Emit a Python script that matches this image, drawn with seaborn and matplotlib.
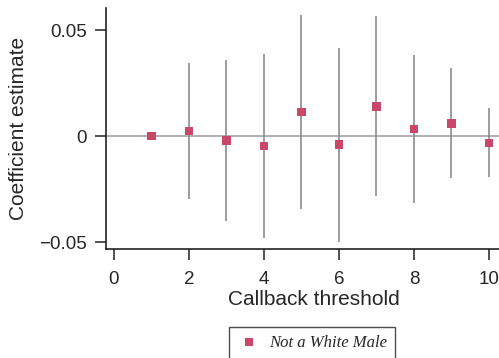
import matplotlib
matplotlib.use("Agg")
import matplotlib.pyplot as plt
import seaborn as sns
import pandas as pd

sns.set_style("ticks")
plt.rcParams['font.family'] = ['Liberation Sans', 'DejaVu Sans']

# estimates
threshold = [1, 2, 3, 4, 5, 6, 7, 8, 9, 10]
coef = [0.0, 0.0024, -0.002, -0.0047, 0.0113, -0.004, 0.014, 0.0033, 0.006, -0.0033]
ci_low = [0.0, -0.0297, -0.040, -0.0483, -0.0346, -0.0498, -0.0283, -0.0318, -0.0197, -0.0195]
ci_high = [0.0, 0.0344, 0.036, 0.0387, 0.057, 0.0415, 0.0566, 0.0382, 0.0319, 0.013]
xticks = [0, 2, 4, 6, 8, 10]
yticks = [-0.05, 0, 0.05]
ytick_labels = ["\u22120.05", "0", "0.05"]

df = pd.DataFrame({"threshold": threshold, "coef": coef,
                   "lo": ci_low, "hi": ci_high})
df["group"] = "Not a White Male"

fig = plt.figure(figsize=(4.99, 3.58), dpi=100)
ax = fig.add_axes([106 / 499, 1 - 249 / 358, 1 - 106 / 499, (249 - 8) / 358])

ax.axhline(0, color="#ababab", lw=1.3, zorder=1)
ci = df[df["threshold"] > 1]
ax.vlines(ci["threshold"], ci["lo"], ci["hi"], color="#8c8c8c", lw=1.2, zorder=2)
sns.scatterplot(data=df, x="threshold", y="coef", hue="group",
                palette=["#c8476b"], marker="s", s=38, linewidth=0,
                ax=ax, zorder=3, legend=True)

ax.set_xlim(-0.213, 10.27)
ax.set_ylim(-0.0533, 0.0604)
ax.set_xticks(xticks)
ax.set_yticks(yticks)
ax.set_yticklabels(ytick_labels)
ax.tick_params(axis="both", labelsize=13.5, length=8, width=1.1, color="#222222")
ax.tick_params(axis="x", pad=8)
ax.tick_params(axis="y", pad=6)
ax.set_xlabel("Callback threshold", fontsize=15)
ax.xaxis.set_label_coords(0.529, -0.17)
ax.set_ylabel("Coefficient estimate", fontsize=15, labelpad=8)
for side in ["top", "right"]:
    ax.spines[side].set_visible(False)
for side in ["left", "bottom"]:
    ax.spines[side].set_linewidth(1.2)
    ax.spines[side].set_color("#222222")

handles, labels = ax.get_legend_handles_labels()
ax.get_legend().remove()
leg = fig.legend(handles, labels, loc="upper left",
                 bbox_to_anchor=(229 / 499, 1 - 327 / 358),
                 prop={"family": ["Liberation Serif"], "style": "italic", "size": 12},
                 frameon=True, fancybox=False, edgecolor="#222222",
                 handletextpad=0.5, borderpad=0.5, markerscale=0.9,
                 handlelength=1.4, borderaxespad=0)
leg.get_frame().set_linewidth(1.0)

fig.savefig("out.png", dpi=100)
